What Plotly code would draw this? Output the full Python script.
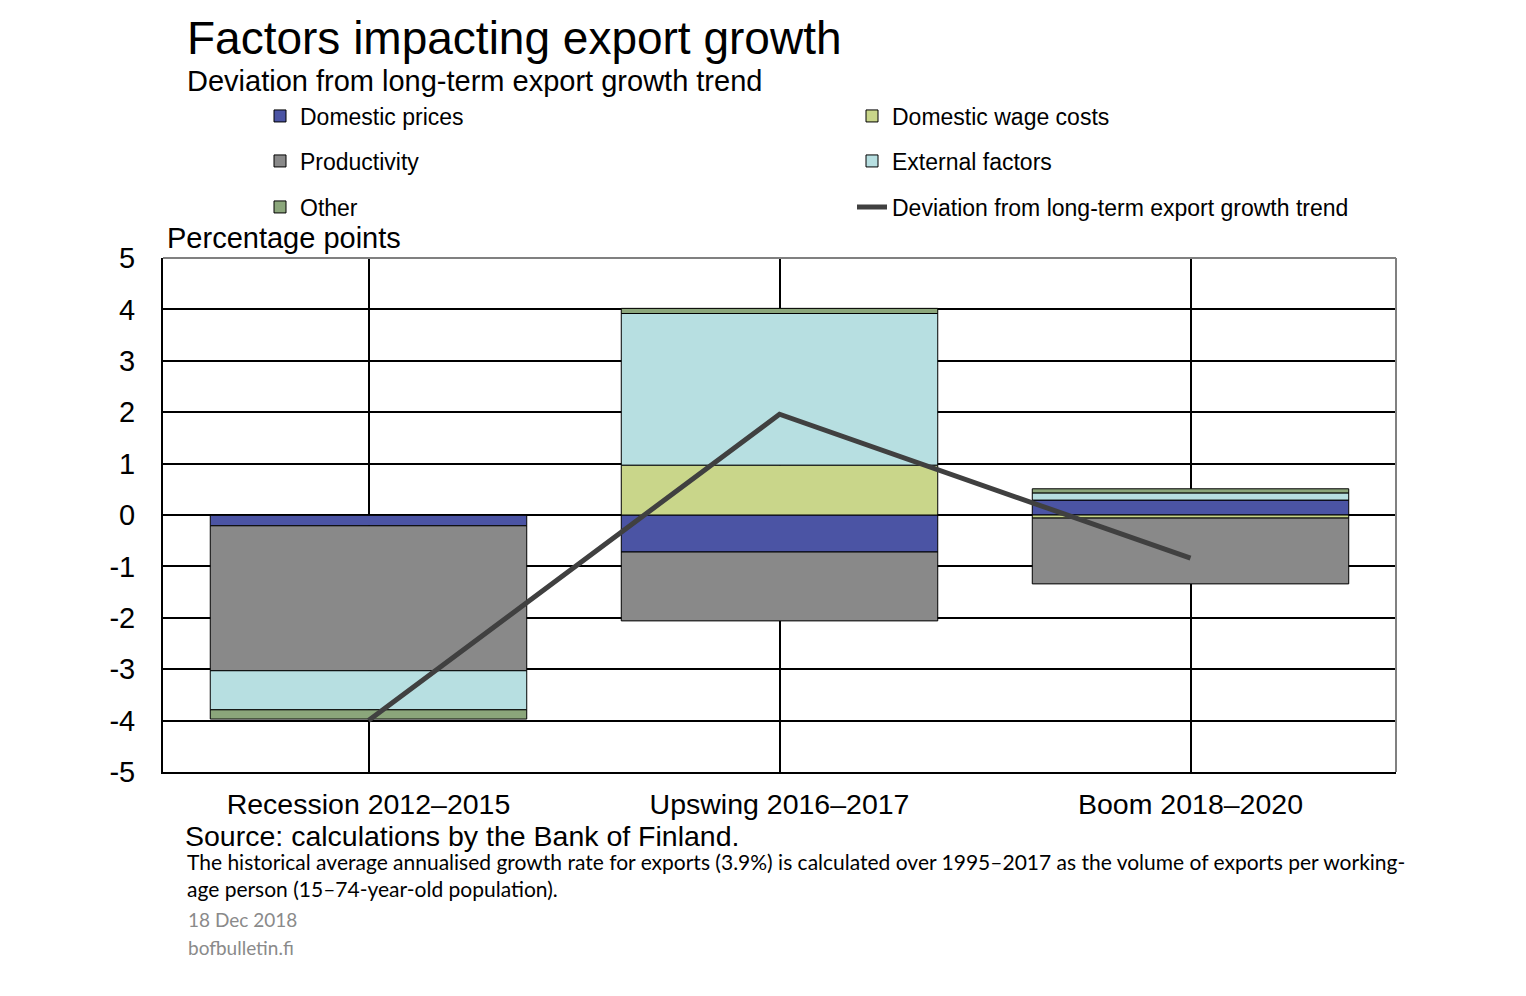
import plotly.graph_objects as go

categories = ["Recession 2012–2015", "Upswing 2016–2017", "Boom 2018–2020"]
domestic_prices = [-0.21, -0.72, 0.29]
domestic_wage_costs = [0.0, 0.97, -0.06]
productivity = [-2.82, -1.34, -1.28]
external_factors = [-0.76, 2.95, 0.14]
other = [-0.18, 0.10, 0.08]
deviation = [-4.0, 1.96, -0.84]
y_ticks = [5, 4, 3, 2, 1, 0, -1, -2, -3, -4, -5]

# page body has an 8px margin; work in screen coordinates and subtract it
OFF = 8
W, H = 1510, 980
L, T = 163 - OFF, 258 - OFF
PW, PH = 1233, 514
R, B = W - L - PW, H - T - PH

def px(x):
    return (x - OFF - L) / PW

def py(y):
    return (H - B - (y - OFF)) / PH

FONT = "Liberation Sans, Arial, sans-serif"

fig = go.Figure()
bar_specs = [
    ("Domestic prices", domestic_prices, "#4B54A4", "legend", 300, 116),
    ("Domestic wage costs", domestic_wage_costs, "#C9D68A", "legend2", 892, 116),
    ("Productivity", productivity, "#898989", "legend3", 300, 161),
    ("External factors", external_factors, "#B7DFE1", "legend4", 892, 161),
    ("Other", other, "#8BA67B", "legend5", 300, 207),
]
legend_pos = {}
for name, vals, col, lg, lx, ly in bar_specs:
    fig.add_trace(go.Bar(
        x=categories, y=vals, name=name, width=0.77,
        marker=dict(color=col, line=dict(color="#000000", width=1)),
        legend=lg,
    ))
    legend_pos[lg] = (lx, ly)
fig.add_trace(go.Scatter(
    x=categories, y=deviation, name="Deviation from long-term export growth trend",
    mode="lines", line=dict(color="#404040", width=5), legend="legend6",
))
legend_pos["legend6"] = (892, 207)

legends = {}
for lg, (lx, ly) in legend_pos.items():
    legends[lg] = dict(
        orientation="v", xanchor="left", yanchor="middle",
        x=px(lx - 40), y=py(ly),
        font=dict(family=FONT, size=23, color="#000"),
        bgcolor="rgba(0,0,0,0)", itemclick=False,
    )

fig.update_layout(
    width=W, height=H,
    margin=dict(l=L, r=R, t=T, b=B),
    plot_bgcolor="white", paper_bgcolor="white",
    barmode="relative",
    showlegend=True,
    xaxis=dict(
        range=[-0.5, 2.5], showgrid=True, gridcolor="#000", gridwidth=2,
        showline=True, linecolor="#000", linewidth=2,
        tickfont=dict(family=FONT, size=28.5, color="#000"),
        ticks="", ticklabelstandoff=6,
    ),
    yaxis=dict(
        range=[-5, 5], tickvals=y_ticks, ticktext=[str(v) for v in y_ticks],
        showgrid=True, gridcolor="#000", gridwidth=2,
        zeroline=False,
        showline=True, linecolor="#000", linewidth=2,
        tickfont=dict(family=FONT, size=29, color="#000"),
        ticks="", ticklabelstandoff=20,
    ),
    shapes=[
        dict(type="line", xref="paper", yref="paper", x0=0, x1=1, y0=1, y1=1,
             line=dict(color="#808080", width=2)),
        dict(type="line", xref="paper", yref="paper", x0=1, x1=1, y0=0, y1=1,
             line=dict(color="#808080", width=2)),
    ],
    **legends,
)

annots = [
    ("Factors impacting export growth", 185, 38, 46, "#000", FONT),
    ("Deviation from long-term export growth trend", 185, 81, 29, "#000", FONT),
    ("Percentage points", 165, 238, 29, "#000", FONT),
    ("Source: calculations by the Bank of Finland.", 183, 836, 28.5, "#000", FONT),
    ("The historical average annualised growth rate for exports (3.9%) is calculated over 1995–2017 as the volume of exports per working-",
     185, 861, 21, "#000", "Lato, sans-serif"),
    ("age person (15–74-year-old population).", 185, 888, 21, "#000", "Lato, sans-serif"),
    ("18 Dec 2018", 186, 920, 19, "#8a8a8a", "Lato, sans-serif"),
    ("bofbulletin.fi", 186, 947, 19, "#8a8a8a", "Lato, sans-serif"),
]
for text, x, y, size, col, fam in annots:
    fig.add_annotation(text=text, xref="paper", yref="paper", x=px(x), y=py(y),
                       xanchor="left", yanchor="middle", showarrow=False,
                       font=dict(family=fam, size=size, color=col))

fig.write_html("out.html")
